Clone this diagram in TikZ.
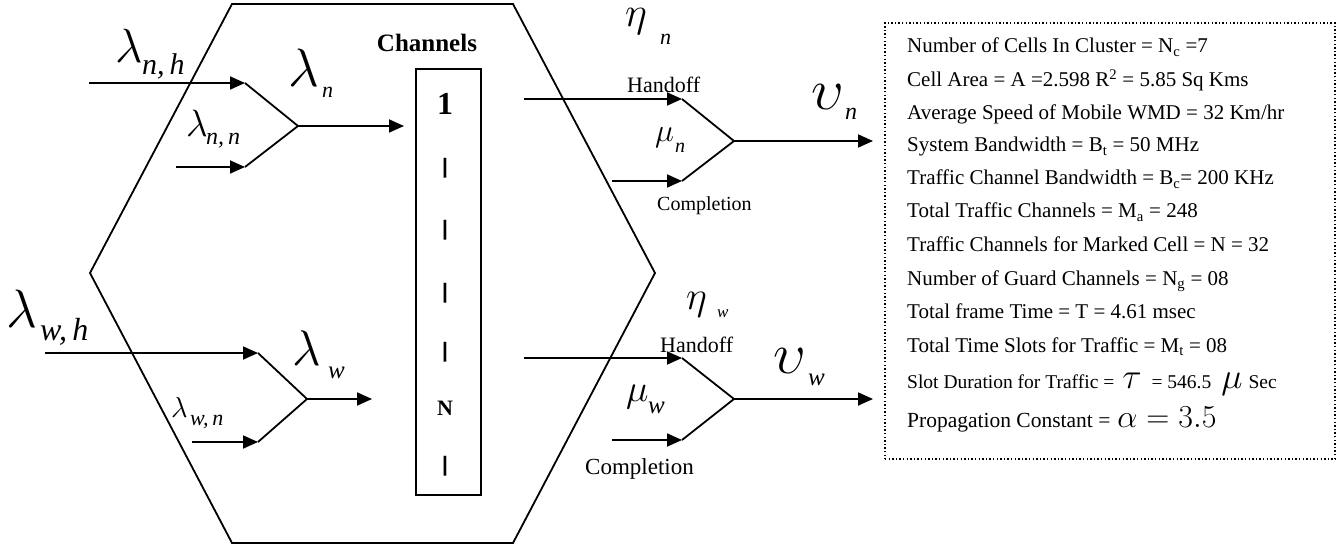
\RequirePackage{fix-cm}
\documentclass[tikz,border=0pt]{standalone}
\usepackage{fontspec}
\setmainfont{Liberation Serif}
\newfontfamily\barfont{Liberation Sans}
\usetikzlibrary{arrows.meta}
\newcommand{\fs}[1]{\fontsize{#1}{#1}\selectfont}
\tikzset{
  ln/.style={line width=1.8pt},
  arr/.style={line width=1.8pt,-{Triangle[length=15pt,width=13pt]}},
  gl/.style={inner sep=0pt,anchor=base west},
  tb/.style={inner sep=0pt,anchor=base west,font=\fs{21}},
  lb/.style={inner sep=0pt,anchor=base west},
  chbar/.style={inner sep=0pt,anchor=center,font=\barfont\bfseries\fs{21}},
}
\begin{document}
\begin{tikzpicture}[x=1pt,y=-1pt]
\useasboundingbox (0,0) rectangle (1343,545);
% hexagon cell
\draw[ln,line join=miter] (232,4) -- (513,4) -- (655,273) -- (513,543) -- (232,543) -- (90,273) -- cycle;
% channel box
\node[draw,line width=1.8pt,minimum width=65pt,minimum height=426pt,inner sep=0pt] (chan) at (448.5,282) {};
\node[lb,anchor=base,font=\bfseries\fs{25}] (chlab) at (427,52) {Channels};
\node[lb,anchor=base,font=\bfseries\fs{32}] (c1) at (445,115) {1};
\node[chbar] (b1) at (445,168) {|};
\node[chbar] (b2) at (445,230) {|};
\node[chbar] (b3) at (445,293) {|};
\node[chbar] (b4) at (445,352) {|};
\node[lb,anchor=base,font=\bfseries\fs{22}] (cN) at (445,415) {N};
\node[chbar] (b5) at (445,466) {|};
% coordinates
\coordinate (s1) at (89,83);  \coordinate (a1) at (245,83);
\coordinate (j1) at (298,126); \coordinate (a2) at (245,167);
\coordinate (s2) at (176,167); \coordinate (e1) at (404,126);
\coordinate (s3) at (45,353);  \coordinate (a3) at (258,353);
\coordinate (j2) at (307,399); \coordinate (a4) at (258,442);
\coordinate (s4) at (192,442); \coordinate (e2) at (372,399);
\coordinate (s5) at (524,99);  \coordinate (a5) at (682,99);
\coordinate (j3) at (734,141); \coordinate (a6) at (682,181);
\coordinate (s6) at (612,181); \coordinate (e3) at (873,141);
\coordinate (s7) at (524,358); \coordinate (a7) at (682,358);
\coordinate (j4) at (734,399); \coordinate (a8) at (682,440);
\coordinate (s8) at (612,440); \coordinate (e4) at (873,399);
% connectors
\draw[arr] (s1) -- (a1); \draw[ln] (a1) -- (j1) -- (a2); \draw[arr] (s2) -- (a2); \draw[arr] (j1) -- (e1);
\draw[arr] (s3) -- (a3); \draw[ln] (a3) -- (j2) -- (a4); \draw[arr] (s4) -- (a4); \draw[arr] (j2) -- (e2);
\draw[arr] (s5) -- (a5); \draw[ln] (a5) -- (j3) -- (a6); \draw[arr] (s6) -- (a6); \draw[arr] (j3) -- (e3);
\draw[arr] (s7) -- (a7); \draw[ln] (a7) -- (j4) -- (a8); \draw[arr] (s8) -- (a8); \draw[arr] (j4) -- (e4);
% greek labels
\node[gl,font=\fs{48}] (lnh) at (115,63) {$\lambda$};
\node[gl,font=\itshape\fs{30}] (lnhs) at (142,75) {n,\,h};
\node[gl,font=\fs{54}] (ln) at (288,87) {$\lambda$};
\node[gl,font=\itshape\fs{22}] (lns) at (322,98) {n};
\node[gl,font=\fs{38}] (lnn) at (186,137) {$\lambda$};
\node[gl,font=\itshape\fs{24}] (lnns) at (206,145) {n,\,n};
\node[gl,font=\fs{54}] (lwh) at (6,327) {$\lambda$};
\node[gl,font=\itshape\fs{32}] (lwhs) at (40,340) {w,\,h};
\node[gl,font=\fs{50}] (lw) at (292,365) {$\lambda$};
\node[gl,font=\itshape\fs{25}] (lws) at (328,378) {w};
\node[gl,font=\fs{29}] (lwn) at (171,417) {$\lambda$};
\node[gl,font=\itshape\fs{22}] (lwns) at (190,425) {w,\,n};
\node[gl,font=\fs{42}] (etn) at (625,27) {$\eta$};
\node[gl,font=\itshape\fs{22}] (etns) at (660,45) {n};
\node[gl,font=\fs{58}] (upn) at (811,110) {$\upsilon$};
\node[gl,font=\itshape\fs{24}] (upns) at (845,120) {n};
\node[gl,font=\fs{32}] (mun) at (655,142) {$\mu$};
\node[gl,font=\itshape\fs{20}] (muns) at (675,153) {n};
\node[gl,font=\fs{40}] (etw) at (686,309) {$\eta$};
\node[gl,font=\itshape\fs{17}] (etws) at (717,317) {w};
\node[gl,font=\fs{58}] (upw) at (773,373) {$\upsilon$};
\node[gl,font=\itshape\fs{25}] (upws) at (808,385) {w};
\node[gl,font=\fs{38}] (muw) at (626,401) {$\mu$};
\node[gl,font=\itshape\fs{25}] (muws) at (648,413) {w};
% word labels
\node[lb,font=\fs{22}] (ho1) at (627,93) {Handoff};
\node[lb,font=\fs{20}] (co1) at (657,211) {Completion};
\node[lb,font=\fs{22}] (ho2) at (660,352) {Handoff};
\node[lb,font=\fs{23}] (co2) at (585,474) {Completion};
% parameter box
\node[draw,line width=1.4pt,dash pattern=on 1.4pt off 2.2pt,inner sep=0pt,minimum width=450pt,minimum height=436pt] (pbox) at (1110,241) {};
\node[tb] (t1) at (907,53) {Number of Cells In Cluster = N\textsubscript{c} =7};
\node[tb] (t2) at (907,87) {Cell Area = A =2.598 R\textsuperscript{2} = 5.85 Sq Kms};
\node[tb] (t3) at (907,120) {Average Speed of Mobile WMD = 32 Km/hr};
\node[tb] (t4) at (907,152) {System Bandwidth = B\textsubscript{t} = 50 MHz};
\node[tb] (t5) at (907,185) {Traffic Channel Bandwidth = B\textsubscript{c}= 200 KHz};
\node[tb] (t6) at (907,218) {Total Traffic Channels = M\textsubscript{a} = 248};
\node[tb] (t7) at (907,252) {Traffic Channels for Marked Cell = N = 32};
\node[tb] (t8) at (907,285) {Number of Guard Channels = N\textsubscript{g} = 08};
\node[tb] (t9) at (907,318) {Total frame Time = T = 4.61 msec};
\node[tb] (t10) at (907,352) {Total Time Slots for Traffic = M\textsubscript{t} = 08};
\node[tb,font=\fs{19.5}] (t11) at (907,388) {Slot Duration for Traffic =\hspace{8pt}{\fs{36}$\tau$}\hspace{10pt}= 546.5\hspace{10pt}{\fs{36}$\mu$}\hspace{6pt}Sec};
\node[tb,font=\fs{21.5}] (t12) at (907,427) {Propagation Constant =\hspace{7pt}{\fs{32}$\alpha = 3.5$}};
\end{tikzpicture}
\end{document}
